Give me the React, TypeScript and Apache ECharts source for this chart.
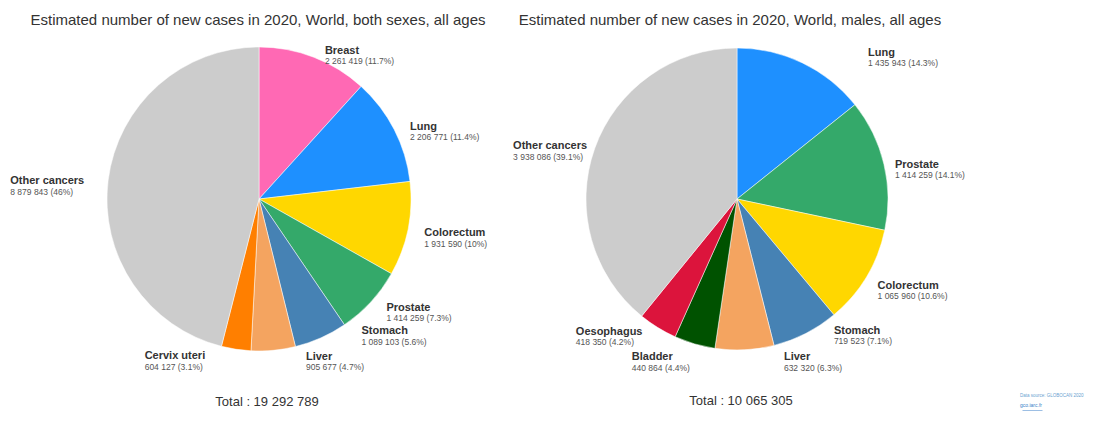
import React, { useEffect, useRef } from "react";
import * as echarts from "echarts";

const bothCategories = ["Breast", "Lung", "Colorectum", "Prostate", "Stomach", "Liver", "Cervix uteri", "Other cancers"];
const bothValues = [2261419, 2206771, 1931590, 1414259, 1089103, 905677, 604127, 8879843];

const maleCategories = ["Lung", "Prostate", "Colorectum", "Stomach", "Liver", "Bladder", "Oesophagus", "Other cancers"];
const maleValues = [1435943, 1414259, 1065960, 719523, 632320, 440864, 418350, 3938086];

const titles = [
  "Estimated number of new cases in 2020, World, both sexes, all ages",
  "Estimated number of new cases in 2020, World, males, all ages",
];

const colorMap: Record<string, string> = {
  Breast: "#ff69b4",
  Lung: "#1e90ff",
  Colorectum: "#ffd700",
  Prostate: "#34a96a",
  Stomach: "#4682b4",
  Liver: "#f4a460",
  "Cervix uteri": "#ff7f00",
  Bladder: "#005200",
  Oesophagus: "#dc143c",
  "Other cancers": "#cccccc",
};

// label nudges (styling only), [dx, dy] per slice
const bothLabelNudge: [number, number][] = [
  [-4, 3], [2, 4], [2, 7], [-3, 6], [12, -8], [19, -6], [-17, 5], [-5, 6],
];
const maleLabelNudge: [number, number][] = [
  [50, -1], [-3, 6], [-4, 10], [7, -4], [26, -1], [10, 5], [6, 3], [11, 4],
];

const FONT = "'Liberation Sans', Arial, sans-serif";

function fmt(n: number): string {
  return String(n).replace(/\B(?=(\d{3})+(?!\d))/g, " ");
}
function pct(v: number, total: number): string {
  let s = ((v / total) * 100).toFixed(1);
  if (s.endsWith(".0")) s = s.slice(0, -2);
  return s;
}

function makeSeries(cats: string[], vals: number[], cx: number, r: number, nudge: [number, number][]) {
  const total = vals.reduce((a, b) => a + b, 0);
  return {
    type: "pie",
    center: [cx, 199],
    radius: r,
    startAngle: 90,
    clockwise: true,
    silent: true,
    avoidLabelOverlap: true,
    itemStyle: { borderColor: "#ffffff", borderWidth: 0.5 },
    label: {
      show: true,
      position: "outside",
      fontFamily: FONT,
      formatter: (p: any) => `{n|${p.name}}\n{v|${fmt(p.value)} (${pct(p.value, total)}%)}`,
      rich: {
        n: { fontFamily: FONT, fontSize: 11, fontWeight: "bold", color: "#333", lineHeight: 12 },
        v: { fontFamily: FONT, fontSize: 8.5, color: "#555", lineHeight: 11 },
      },
    },
    labelLine: { show: false, length: 6, length2: 8 },
    labelLayout: (params: any) => {
      const n = nudge[params.dataIndex] || [0, 0];
      return {
        x: params.labelRect.x + n[0],
        y: params.labelRect.y + n[1],
        align: "left",
        verticalAlign: "top",
        hideOverlap: false,
      };
    },
    data: cats.map((c, i) => ({ name: c, value: vals[i], itemStyle: { color: colorMap[c] } })),
  };
}

export default function App() {
  const ref = useRef<HTMLDivElement>(null);
  useEffect(() => {
    document.body.style.margin = "0";
    const chart = echarts.init(ref.current!, undefined, { renderer: "svg" });
    const bothTotal = bothValues.reduce((a, b) => a + b, 0);
    const maleTotal = maleValues.reduce((a, b) => a + b, 0);
    const titleStyle = { fontFamily: FONT, fontSize: 15, fontWeight: "normal", color: "#333" };
    const totalStyle = { fontFamily: FONT, fontSize: 13, fontWeight: "normal", color: "#333" };
    chart.setOption({
      animation: false,
      backgroundColor: "#ffffff",
      title: [
        { text: titles[0], left: 253, top: 7, textAlign: "center", textStyle: titleStyle },
        { text: titles[1], left: 725, top: 7, textAlign: "center", textStyle: titleStyle },
        { text: "Total : " + fmt(bothTotal), left: 262, top: 390, textAlign: "center", textStyle: totalStyle },
        { text: "Total : " + fmt(maleTotal), left: 736, top: 389, textAlign: "center", textStyle: totalStyle },
      ],
      graphic: [
        { type: "text", left: 1020, top: 393, style: { text: "Data source: GLOBOCAN 2020", fontSize: 4.5, fill: "#6a9fd0", fontFamily: FONT } },
        { type: "text", left: 1020, top: 402, style: { text: "gco.iarc.fr", fontSize: 5, fill: "#3a7fc8", fontFamily: FONT } },
        { type: "line", left: 1020, top: 408, shape: { x1: 0, y1: 0, x2: 20, y2: 0 }, style: { stroke: "#3a7fc8", lineWidth: 0.5 } },
      ],
      series: [
        makeSeries(bothCategories, bothValues, 259, 152, bothLabelNudge),
        makeSeries(maleCategories, maleValues, 737, 151, maleLabelNudge),
      ],
    });
    return () => chart.dispose();
  }, []);
  return <div ref={ref} style={{ width: 1107, height: 440 }} />;
}
